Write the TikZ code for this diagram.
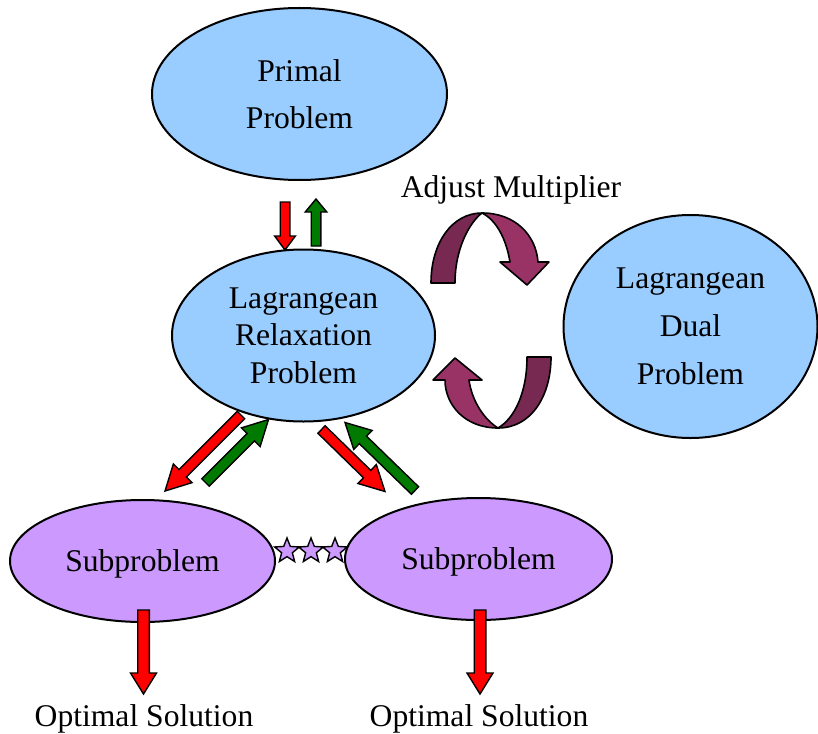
\documentclass[tikz,border=0pt]{standalone}
\usepackage{fontspec}
\setmainfont{Liberation Serif}
\usetikzlibrary{shapes.geometric, calc}
\definecolor{probBlue}{HTML}{99CCFF}
\definecolor{subViolet}{HTML}{CC99FF}
\definecolor{flowRed}{HTML}{FF0000}
\definecolor{flowGreen}{HTML}{007A00}
\definecolor{loopDark}{HTML}{772952}
\definecolor{loopLight}{HTML}{993366}
\tikzset{
    problem/.style={ellipse, draw, line width=1pt, fill=probBlue, inner sep=0pt, align=center},
    subproblem/.style={problem, fill=subViolet, text depth=0pt},
    blockedge/.style={draw=black, line width=0.7pt, line join=miter},
    loopband/.style={draw=black, line width=0.8pt, line join=round},
    sepstar/.style={star, star points=5, star point ratio=2.3, draw, line width=0.7pt, fill=subViolet, inner sep=0pt, minimum size=13pt},
    labeltext/.style={font=\fontsize{15.8}{19}\selectfont, anchor=base}
}
% block arrow: fill, tail, tip, half shaft, half head, head length
\newcommand{\blockarrow}[6]{%
    \coordinate (ah) at ($(#3)!#6!(#2)$);
    \draw[blockedge, fill=#1] ($(#2)!#4!90:(#3)$) -- ($(ah)!#4!90:(#3)$)
        -- ($(ah)!#5!90:(#3)$) -- (#3) -- ($(ah)!#5!-90:(#3)$)
        -- ($(ah)!#4!-90:(#3)$) -- ($(#2)!#4!-90:(#3)$) -- cycle;
}

\begin{document}
\begin{tikzpicture}[x=0.5pt, y=-0.5pt]
    \useasboundingbox (0,0) rectangle (818,733);

    % problems
    \node[problem, minimum width=147.5pt, minimum height=86pt,
          font=\fontsize{15.8}{23.5}\selectfont] (primal) at (299.5,94) {Primal\\Problem};
    \node[problem, minimum width=131.5pt, minimum height=86pt,
          font=\fontsize{15.8}{18.7}\selectfont] (relax) at (303.5,335.5) {Lagrangean\\Relaxation\\Problem};
    \node[problem, minimum width=127pt, minimum height=111.5pt,
          font=\fontsize{15.8}{24}\selectfont] (dual) at (690.5,326.5) {Lagrangean\\Dual\\Problem};
    \node[subproblem, minimum width=132.5pt, minimum height=61pt,
          font=\fontsize{15.8}{19}\selectfont] (subL) at (142.5,561) {Subproblem};
    \node[subproblem, minimum width=133.5pt, minimum height=61pt,
          font=\fontsize{15.8}{19}\selectfont] (subR) at (478.5,559) {Subproblem};

    \foreach \sx [count=\i] in {287,311,335}
        \node[sepstar] (star\i) at (\sx,551) {};

    % texts
    \node[labeltext] (adjust) at (511,197) {Adjust Multiplier};
    \node[labeltext] (optL) at (144,726) {Optimal Solution};
    \node[labeltext] (optR) at (479,726) {Optimal Solution};

    % arrow ends
    \coordinate (pDownT) at (285,202);     \coordinate (pDownH) at (285,250);
    \coordinate (pUpT) at (316,246);       \coordinate (pUpH) at (316,199);
    \coordinate (lDownT) at (241,415);     \coordinate (lDownH) at (165,491);
    \coordinate (lUpT) at (205.5,482.5);   \coordinate (lUpH) at (268.5,419.5);
    \coordinate (rDownT) at (321.5,429.5); \coordinate (rDownH) at (385,491.5);
    \coordinate (rUpT) at (415,490.5);     \coordinate (rUpH) at (345,422.5);
    \coordinate (oLT) at (143.5,610);      \coordinate (oLH) at (143.5,694);
    \coordinate (oRT) at (480,610);        \coordinate (oRH) at (480,694);

    \blockarrow{flowRed}{pDownT}{pDownH}{2.4pt}{5.2pt}{7pt}
    \blockarrow{flowGreen}{pUpT}{pUpH}{2.4pt}{5.4pt}{6.5pt}
    \blockarrow{flowRed}{lDownT}{lDownH}{2.6pt}{6.6pt}{12.5pt}
    \blockarrow{flowGreen}{lUpT}{lUpH}{2.6pt}{6.6pt}{12.5pt}
    \blockarrow{flowRed}{rDownT}{rDownH}{2.6pt}{6.6pt}{12.5pt}
    \blockarrow{flowGreen}{rUpT}{rUpH}{2.6pt}{6.6pt}{12.5pt}
    \blockarrow{flowRed}{oLT}{oLH}{2.9pt}{6.5pt}{10.5pt}
    \blockarrow{flowRed}{oRT}{oRH}{2.9pt}{6.5pt}{10.5pt}

    % adjust loop, upper half
    \draw[loopband, fill=loopDark] (431,283) .. controls (431,243) and (452,213) .. (482,213)
        .. controls (470,222) and (455,248) .. (455,283) -- cycle;
    \draw[loopband, fill=loopLight] (482,213) .. controls (515,213) and (536,235) .. (538,262)
        -- (549,262) -- (527,285) -- (500,262) -- (510,262)
        .. controls (506,238) and (496,220) .. (482,213) -- cycle;
    % adjust loop, lower half
    \draw[loopband, fill=loopDark] (498,428) .. controls (532,428) and (551,395) .. (551,357)
        -- (527,357) .. controls (527,392) and (515,418) .. (498,428) -- cycle;
    \draw[loopband, fill=loopLight] (498,428) .. controls (465,428) and (445,405) .. (445,380)
        -- (433,380) -- (455,358) -- (482,380) -- (469,380)
        .. controls (472,402) and (485,420) .. (498,428) -- cycle;
\end{tikzpicture}
\end{document}
